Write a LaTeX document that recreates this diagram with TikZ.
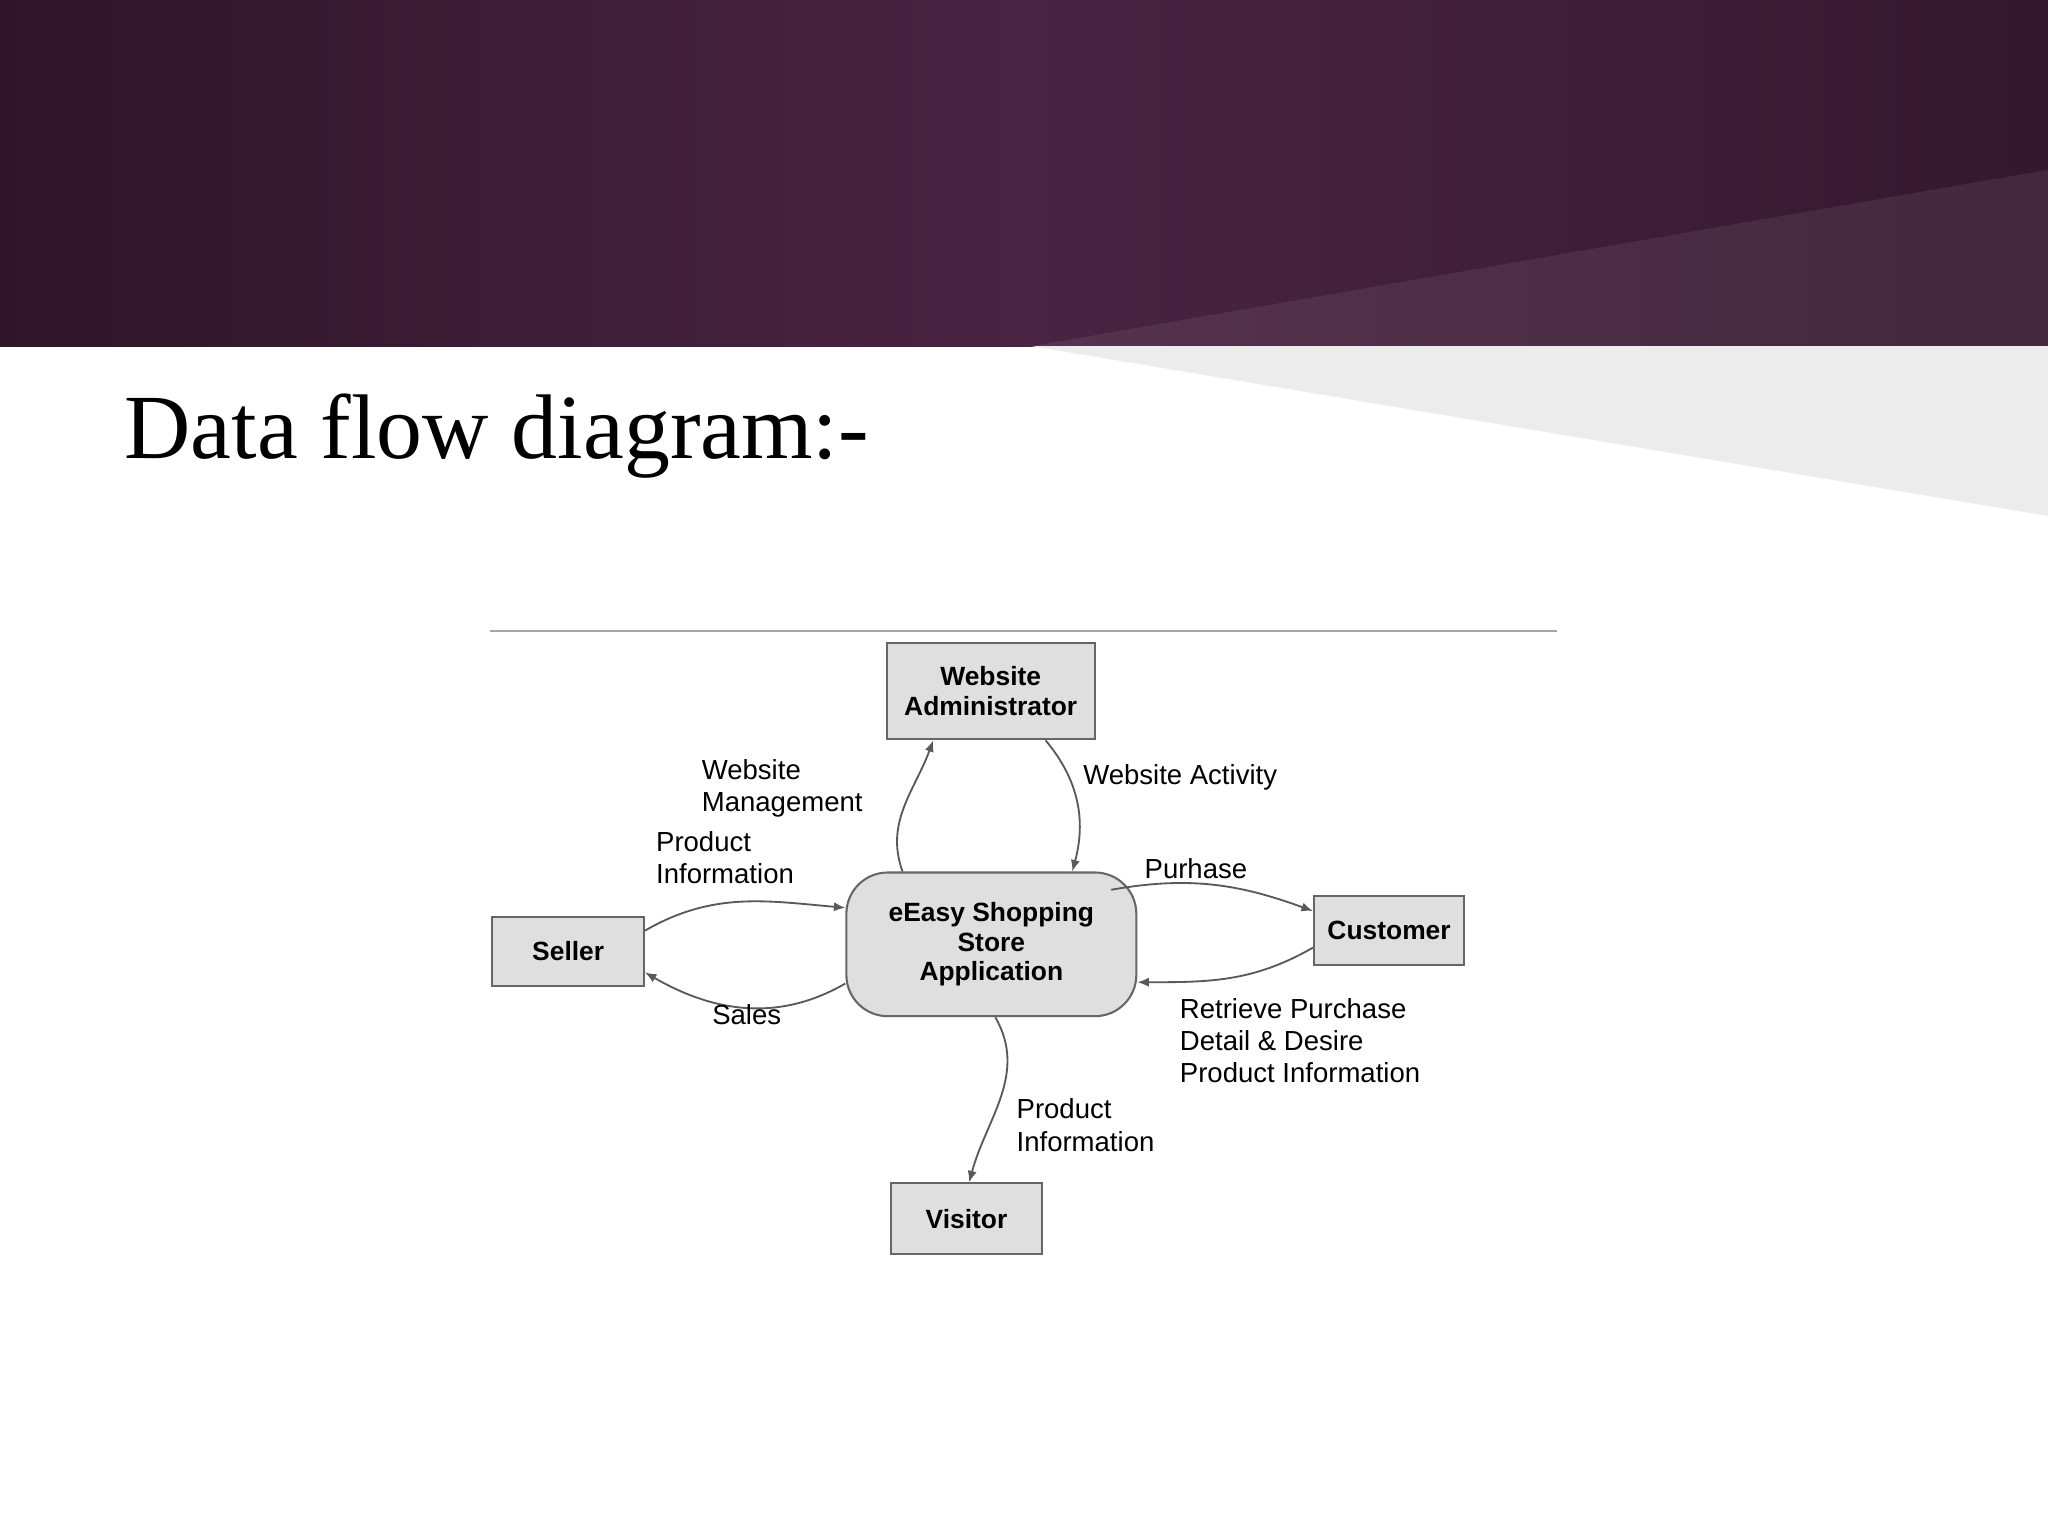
\documentclass[tikz,border=0pt]{standalone}
\usepackage{fontspec}
\usetikzlibrary{arrows.meta}
\setmainfont{Liberation Serif}
\newfontfamily\dsans{Liberation Sans}
\definecolor{hdA}{HTML}{2E1628}
\definecolor{hdB}{HTML}{4A2443}
\begin{document}
\begin{tikzpicture}[x=0.02cm,y=-0.02cm,
  box/.style={draw=gray!80!black,fill=gray!25,line width=0.9pt,font=\dsans\fontsize{11.5}{13}\selectfont\bfseries,align=center,inner sep=0pt},
  lbl/.style={font=\dsans\fontsize{12}{14}\selectfont,align=left,anchor=north west,inner sep=0pt},
  flow/.style={draw=gray!70!black,line width=0.8pt,-{Latex[length=5pt,width=4pt]}}]
\useasboundingbox (0,0) rectangle (1568,1176);
\fill[white] (0,0) rectangle (1568,1176);
\shade[left color=hdA,right color=hdA!80!hdB,middle color=hdB] (0,0) rectangle (1568,265);
\fill[white,opacity=0.07] (790,265) -- (1568,130) -- (1568,265) -- cycle;
\fill[gray!15] (790,265) -- (1568,265) -- (1568,395) -- cycle;
\node[anchor=west,inner sep=0pt,font=\fontsize{40}{44}\selectfont] (title) at (95,334) {Data flow diagram:-};
\draw[gray!70,line width=0.8pt] (375,483) -- (1192,483);
\node[box,minimum width=159*0.02cm,minimum height=74*0.02cm] (admin) at (758.5,529) {Website\\Administrator};
\node[box,minimum width=116*0.02cm,minimum height=53*0.02cm] (seller) at (435,728.5) {Seller};
\node[box,minimum width=115*0.02cm,minimum height=53*0.02cm] (cust) at (1063.5,712.5) {Customer};
\node[box,minimum width=116*0.02cm,minimum height=54*0.02cm] (vis) at (740,933) {Visitor};
\node[box,rounded corners=18pt,minimum width=222*0.02cm,minimum height=110*0.02cm] (app) at (759,723) {eEasy Shopping\\Store\\Application};
\draw[flow] ([xshift=-68*0.02cm]app.north) to[out=110,in=-110] ([xshift=-44*0.02cm]admin.south);
\draw[flow] ([xshift=42*0.02cm]admin.south) to[out=-50,in=75] ([xshift=62*0.02cm]app.north);
\draw[flow] ([yshift=16*0.02cm]seller.east) to[out=30,in=175] ([yshift=28*0.02cm]app.west);
\draw[flow] ([yshift=-30*0.02cm]app.west) to[out=-150,in=-30] ([yshift=-16*0.02cm]seller.east);
\draw[flow] ([xshift=-20*0.02cm,yshift=-14*0.02cm]app.north east) to[out=10,in=160] ([yshift=15*0.02cm]cust.west);
\draw[flow] ([yshift=-13*0.02cm]cust.west) to[out=-150,in=0] ([yshift=-29*0.02cm]app.east);
\draw[flow] ([xshift=3*0.02cm]app.south) to[out=-60,in=75] ([xshift=2*0.02cm]vis.north);
\node[lbl] (l1) at (537,581) {Website\\Management};
\node[lbl] (l2) at (829,585) {Website Activity};
\node[lbl] (l3) at (502,636) {Product\\Information};
\node[lbl] (l4) at (876,657) {Purhase};
\node[lbl] (l5) at (545,769) {Sales};
\node[lbl] (l6) at (903,764) {Retrieve Purchase\\Detail \& Desire\\Product Information};
\node[lbl] (l7) at (778,841) {Product\\Information};
\end{tikzpicture}
\end{document}
